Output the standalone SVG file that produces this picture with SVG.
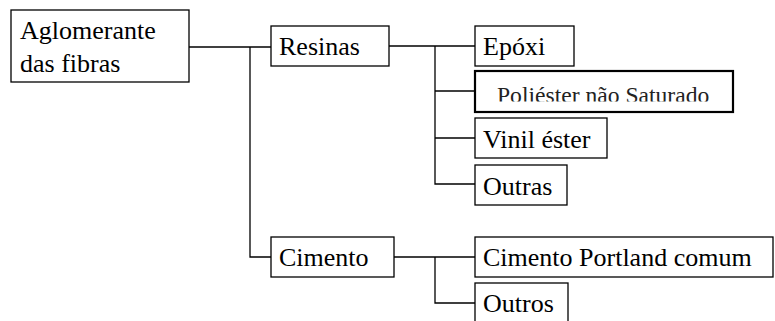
<svg xmlns="http://www.w3.org/2000/svg" width="775" height="321" viewBox="0 0 775 321">
<style>
.box{fill:#fff;stroke:#000;stroke-width:1.3}
.thick{stroke-width:2.2}
.c{fill:none;stroke:#000;stroke-width:1.3}
</style>
<defs>
<clipPath id="pclip"><rect x="476" y="72" width="256" height="29.5"/></clipPath>
</defs>
<rect width="775" height="321" fill="#fff"/>
<g id="connectors" class="c">
<path d="M189,47 H271"/>
<path d="M250,47 V257 H271"/>
<path d="M389,46 H475"/>
<path d="M435,46 V184 H475"/>
<path d="M435,91 H475"/>
<path d="M435,138 H475"/>
<path d="M394,257 H475"/>
<path d="M435,257 V303 H475"/>
</g>
<g id="aglomerante">
<rect class="box" x="11" y="10" width="178" height="72"/>
<text style="font-family:'Liberation Serif',serif;font-size:26px" x="20" y="39">Aglomerante</text>
<text style="font-family:'Liberation Serif',serif;font-size:26px" x="20" y="72">das fibras</text>
</g>
<g id="resinas">
<rect class="box" x="271" y="26" width="118" height="40"/>
<text style="font-family:'Liberation Serif',serif;font-size:26px" x="279" y="55">Resinas</text>
</g>
<g id="epoxi">
<rect class="box" x="475" y="26" width="99" height="40"/>
<text style="font-family:'Liberation Serif',serif;font-size:26px" x="483" y="55">Epóxi</text>
</g>
<g id="poliester">
<rect class="box thick" x="475" y="71" width="258" height="41"/>
<text style="font-family:'Liberation Serif',serif;font-size:23.6px;fill:#222" x="497" y="103" clip-path="url(#pclip)">Poliéster não Saturado</text>
</g>
<g id="vinil">
<rect class="box" x="475" y="118" width="132" height="40"/>
<text style="font-family:'Liberation Serif',serif;font-size:26px" x="483" y="148">Vinil éster</text>
</g>
<g id="outras">
<rect class="box" x="475" y="165" width="92" height="40"/>
<text style="font-family:'Liberation Serif',serif;font-size:26px" x="483" y="195">Outras</text>
</g>
<g id="cimento">
<rect class="box" x="271" y="237" width="123" height="40"/>
<text style="font-family:'Liberation Serif',serif;font-size:26px" x="279" y="266">Cimento</text>
</g>
<g id="cpc">
<rect class="box" x="475" y="237" width="298" height="40"/>
<text style="font-family:'Liberation Serif',serif;font-size:26px" x="483" y="266">Cimento Portland comum</text>
</g>
<g id="outros">
<rect class="box" x="475" y="283" width="93" height="50"/>
<text style="font-family:'Liberation Serif',serif;font-size:26px" x="483" y="312">Outros</text>
</g>
</svg>
